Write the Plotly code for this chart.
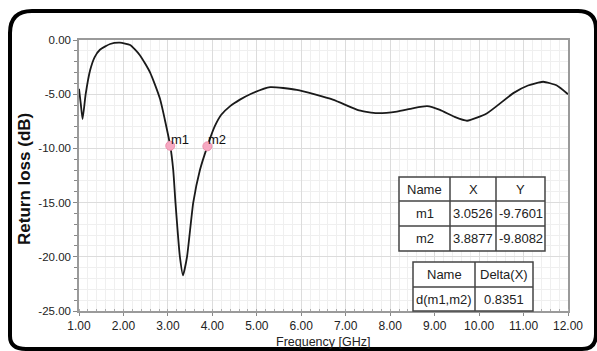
import plotly.graph_objects as go

# ---- data ----
freq_ghz = [1.00, 1.04, 1.08, 1.15, 1.25, 1.35, 1.47, 1.70, 1.92, 2.15, 2.37, 2.60, 2.82,
            3.0526, 3.12, 3.17, 3.27, 3.34, 3.43, 3.57, 3.72, 3.8877, 4.05, 4.20, 4.40, 4.62, 4.85,
            5.30, 5.90, 6.71, 7.30, 7.70, 8.15, 8.50, 8.83, 9.12, 9.45, 9.73, 10.18,
            10.77, 11.10, 11.44, 11.75, 12.00]
return_loss_db = [-4.5, -5.9, -7.3, -5.0, -2.8, -1.6, -0.9, -0.37, -0.25, -0.46, -1.4, -3.0, -5.4,
                  -9.76, -12.0, -15.0, -20.0, -21.7, -20.0, -15.0, -12.0, -9.81, -8.0, -6.9, -6.1, -5.5, -5.0,
                  -4.35, -4.6, -5.5, -6.5, -6.75, -6.6, -6.3, -6.1, -6.45, -7.1, -7.45, -6.75,
                  -4.9, -4.2, -3.85, -4.2, -5.0]

marker_names = ["m1", "m2"]
marker_x = [3.0526, 3.8877]
marker_y = [-9.7601, -9.8082]
marker_x_text = ["3.0526", "3.8877"]
marker_y_text = ["-9.7601", "-9.8082"]
delta_name = "d(m1,m2)"
delta_value = "0.8351"

x_ticks = [1, 2, 3, 4, 5, 6, 7, 8, 9, 10, 11, 12]
y_ticks = [0, -5, -10, -15, -20, -25]

W, H = 597, 351
L, R, T, B = 79, 568, 40, 311


def px(x):
    return (x - L) / (R - L)


def py(y):
    return (B - y) / (B - T)


FONT = "Liberation Sans Narrow, Arial Narrow, Liberation Sans, Arial"

fig = go.Figure()
fig.add_trace(go.Scatter(x=freq_ghz, y=return_loss_db, mode="lines",
                         line=dict(color="#1a1a1a", width=1.8, shape="spline", smoothing=0.5),
                         hoverinfo="skip", showlegend=False))
fig.add_trace(go.Scatter(x=marker_x, y=marker_y, mode="markers",
                         marker=dict(color="#f6a9c2", size=9, line=dict(color="#ee8fae", width=1)),
                         showlegend=False))

for n, xv, yv in zip(marker_names, marker_x, marker_y):
    fig.add_annotation(x=xv, y=yv, text=n, showarrow=False, xanchor="left", yanchor="bottom",
                       xshift=-1, yshift=-3, font=dict(family=FONT, size=13, color="#111"))

shapes = []
frame = ("M {a},{b} L {c},{d} Q {e},{f} {g},{h} L {i},{j} Q {k},{l} {m},{n} L {o},{p} Q {q},{r} {s},{t} L {u},{v} Q {w},{x} {y},{z}").format(
    a=px(10), b=py(336), c=px(10), d=py(33), e=px(10), f=py(11), g=px(32), h=py(11),
    i=px(578), j=py(11), k=px(596), l=py(11), m=px(596), n=py(29),
    o=px(596), p=py(334), q=px(596), r=py(349), s=px(582), t=py(349),
    u=px(26), v=py(349), w=px(10), x=py(349), y=px(10), z=py(336))
shapes.append(dict(type="path", path=frame, xref="paper", yref="paper",
                   line=dict(color="#000", width=4)))


def table(col_edges, row_edges, rows):
    shapes.append(dict(type="rect", xref="paper", yref="paper",
                       x0=px(col_edges[0]), x1=px(col_edges[-1]),
                       y0=py(row_edges[0]), y1=py(row_edges[-1]),
                       fillcolor="white", line=dict(color="#444", width=1.5), layer="above"))
    for cx in col_edges[1:-1]:
        shapes.append(dict(type="line", xref="paper", yref="paper", x0=px(cx), x1=px(cx),
                           y0=py(row_edges[0]), y1=py(row_edges[-1]),
                           line=dict(color="#444", width=1.5), layer="above"))
    for ry in row_edges[1:-1]:
        shapes.append(dict(type="line", xref="paper", yref="paper", x0=px(col_edges[0]),
                           x1=px(col_edges[-1]), y0=py(ry), y1=py(ry),
                           line=dict(color="#444", width=1.5), layer="above"))
    for ri, row in enumerate(rows):
        for ci, txt in enumerate(row):
            fig.add_annotation(xref="paper", yref="paper",
                               x=px((col_edges[ci] + col_edges[ci + 1]) / 2),
                               y=py((row_edges[ri] + row_edges[ri + 1]) / 2),
                               xanchor="center", yanchor="middle",
                               text=txt, showarrow=False,
                               font=dict(family=FONT, size=13, color="#222"))


table([399, 450, 496, 545], [177, 201, 226, 251],
      [["Name", "X", "Y"]] + [[n, xt, yt] for n, xt, yt in zip(marker_names, marker_x_text, marker_y_text)])
table([413, 475, 533], [262, 287, 311],
      [["Name", "Delta(X)"], [delta_name, delta_value]])

fig.add_annotation(xref="paper", yref="paper", x=px(25), y=py(179), xanchor="center", yanchor="middle",
                   text="<b>Return loss (dB)</b>",
                   textangle=-90, showarrow=False, font=dict(family="Liberation Sans, Arial", size=17, color="#111"))
fig.add_annotation(xref="paper", yref="paper", x=px(323), y=py(342), xanchor="center", yanchor="middle",
                   text="Frequency [GHz]",
                   showarrow=False, font=dict(family=FONT, size=12.5, color="#222"))

fig.update_layout(
    width=W, height=H, margin=dict(l=L, r=W - R, t=T, b=H - B),
    paper_bgcolor="white", plot_bgcolor="white", shapes=shapes,
    font=dict(family=FONT, size=12, color="#222"),
)
fig.update_xaxes(range=[1, 12], tickvals=x_ticks, ticktext=["%.2f" % v for v in x_ticks],
                 tickfont=dict(size=12),
                 showline=True, mirror=True, linecolor="#9a9a9a", linewidth=1.5,
                 gridcolor="#dcdcdc", gridwidth=1, zeroline=False,
                 ticks="outside", ticklen=3, tickcolor="#888",
                 minor=dict(dtick=0.2, showgrid=True, gridcolor="#efefef", ticks="inside", ticklen=2, tickcolor="#aaa"))
fig.update_yaxes(range=[-25, 0], tickvals=y_ticks, ticktext=["%.2f" % v for v in y_ticks],
                 tickfont=dict(size=11.5),
                 showline=True, mirror=True, linecolor="#9a9a9a", linewidth=1.5,
                 gridcolor="#dcdcdc", gridwidth=1, zeroline=False,
                 ticks="outside", ticklen=4, tickcolor="#888",
                 minor=dict(dtick=1, showgrid=True, gridcolor="#efefef", ticks="outside", ticklen=3, tickcolor="#888"))

fig.write_html("out.html")
